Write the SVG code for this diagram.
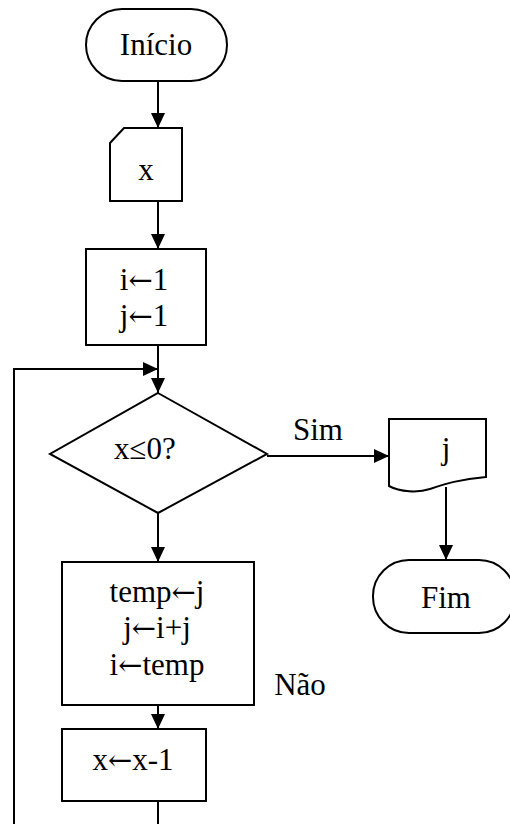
<svg xmlns="http://www.w3.org/2000/svg" width="510" height="824" viewBox="0 0 510 824" font-family="'Liberation Serif', 'Times New Roman', Times, serif">
<defs>
<marker id="arr" viewBox="0 0 15 14" refX="15" refY="7" markerWidth="15" markerHeight="14" markerUnits="userSpaceOnUse" orient="auto">
<path d="M0,0 L15,7 L0,14 Z" fill="#000"/>
</marker>
<style>
.s{fill:#fff;stroke:#000;stroke-width:2}
.c{fill:none;stroke:#000;stroke-width:2;marker-end:url(#arr)}
.l{fill:none;stroke:#000;stroke-width:2}
text{font-family:'Liberation Serif','Times New Roman',Times,serif;font-size:31px;fill:#000;text-anchor:middle}
.a{font-family:'DejaVu Serif',serif;font-size:29px}
</style>
</defs>
<rect width="510" height="824" fill="#fff"/>
<g id="connectors">
<path class="c" d="M158,81 V128"/>
<path class="c" d="M158,201 V249"/>
<path class="c" d="M158,345 V393"/>
<path class="c" d="M14,826 V369 H158"/>
<path class="l" d="M158,801 V830 H14"/>
<path class="c" d="M267,456 H389"/>
<path class="c" d="M446,487 V560"/>
<path class="c" d="M158,513 V562"/>
<path class="c" d="M158,705 V729"/>
<text x="318" y="440">Sim</text>
<text x="300" y="695">Não</text>
</g>
<g id="inicio">
<rect class="s" x="86" y="9" width="141" height="72" rx="36" ry="36"/>
<text x="156" y="55">Início</text>
</g>
<g id="entrada-x">
<path class="s" d="M124,128 H182 V201 H110 V143 Z"/>
<text x="146" y="180">x</text>
</g>
<g id="init">
<rect class="s" x="86" y="249" width="120" height="96"/>
<text x="144" y="290">i<tspan class="a">←</tspan>1</text>
<text x="144" y="326">j<tspan class="a">←</tspan>1</text>
</g>
<g id="decisao">
<path class="s" d="M158,393 L267,454 L158,513 L50,454 Z"/>
<text x="145" y="459">x≤0?</text>
</g>
<g id="saida-j">
<path class="s" d="M389,419 H486 V477 C460,479 445,484 430,489 C418,493 400,492 389,486 Z"/>
<text x="446" y="459">j</text>
</g>
<g id="fim">
<rect class="s" x="373" y="560" width="142" height="73" rx="36" ry="36"/>
<text x="446" y="608">Fim</text>
</g>
<g id="corpo">
<rect class="s" x="62" y="562" width="192" height="143"/>
<text x="157" y="602">temp<tspan class="a">←</tspan>j</text>
<text x="157" y="638">j<tspan class="a">←</tspan>i+j</text>
<text x="157" y="675">i<tspan class="a">←</tspan>temp</text>
</g>
<g id="decremento">
<rect class="s" x="62" y="729" width="144" height="72"/>
<text x="133" y="770">x<tspan class="a">←</tspan>x-1</text>
</g>
</svg>
